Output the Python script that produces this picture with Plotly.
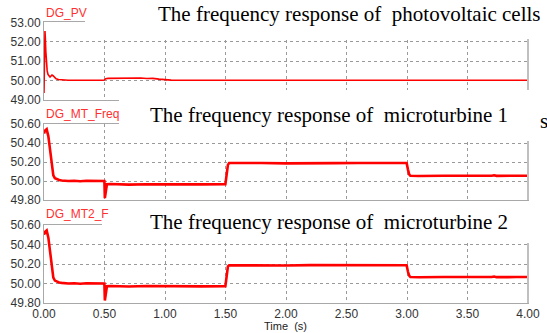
import plotly.graph_objects as go

# ---------------- data ----------------
t_pv = [0.0, 0.004, 0.008, 0.011, 0.015, 0.02, 0.026, 0.033, 0.042, 0.05, 0.058, 0.066,
        0.075, 0.085, 0.1, 0.12, 0.16, 0.2, 0.3, 0.4, 0.49, 0.5, 0.51, 0.53, 0.56, 0.6,
        0.65, 0.7, 0.75, 0.8, 0.85, 0.9, 0.95, 1.0, 1.05, 1.2, 1.5, 1.8, 2.0, 2.2, 2.5,
        2.8, 3.0, 3.2, 3.5, 3.8, 4.0]
v_pv = [49.34, 50.6, 52.55, 52.2, 51.5, 50.9, 50.5, 50.3, 50.2, 50.17, 50.22, 50.27,
        50.24, 50.15, 50.08, 50.04, 50.01, 50.0, 50.0, 49.99, 50.0, 50.02, 50.08, 50.1,
        50.1, 50.13, 50.11, 50.12, 50.1, 50.12, 50.09, 50.1, 50.06, 50.03, 50.01, 50.0,
        50.0, 50.01, 50.0, 50.0, 50.0, 50.01, 50.0, 50.0, 50.0, 50.0, 50.0]

t_mt1 = [0.0, 0.008, 0.022, 0.036, 0.05, 0.064, 0.077, 0.09, 0.105, 0.125, 0.146, 0.2,
         0.25, 0.3, 0.35, 0.4, 0.45, 0.499, 0.503, 0.508, 0.514, 0.52, 0.55, 0.7, 0.85,
         1.0, 1.15, 1.3, 1.499, 1.51, 1.52, 1.53, 1.6, 1.8, 2.0, 2.2, 2.4, 2.6, 2.8,
         2.997, 3.008, 3.018, 3.028, 3.1, 3.3, 3.5, 3.7, 3.72, 3.74, 3.9, 4.0]
v_mt1 = [50.5, 50.53, 50.545, 50.47, 50.33, 50.17, 50.06, 50.03, 50.02, 50.01, 50.006,
         50.0, 50.003, 49.998, 50.002, 50.0, 50.003, 50.0, 49.82, 49.88, 49.94, 49.965,
         49.968, 49.962, 49.966, 49.963, 49.967, 49.964, 49.966, 50.08, 50.17, 50.19,
         50.188, 50.19, 50.186, 50.19, 50.188, 50.19, 50.189, 50.19, 50.12, 50.07,
         50.055, 50.052, 50.056, 50.053, 50.055, 50.06, 50.054, 50.055, 50.056]

t_mt2 = [0.0, 0.008, 0.022, 0.036, 0.05, 0.064, 0.077, 0.09, 0.105, 0.125, 0.146, 0.2,
         0.25, 0.3, 0.35, 0.4, 0.45, 0.499, 0.503, 0.508, 0.514, 0.52, 0.55, 0.7, 0.85,
         1.0, 1.15, 1.3, 1.499, 1.51, 1.52, 1.53, 1.6, 1.8, 2.0, 2.2, 2.4, 2.6, 2.8,
         2.997, 3.008, 3.018, 3.028, 3.1, 3.3, 3.5, 3.7, 3.72, 3.74, 3.9, 4.0]
v_mt2 = [50.5, 50.53, 50.545, 50.47, 50.33, 50.17, 50.06, 50.03, 50.02, 50.01, 50.006,
         50.0, 50.003, 49.998, 50.002, 50.0, 50.003, 50.0, 49.826, 49.89, 49.945, 49.972,
         49.975, 49.97, 49.974, 49.972, 49.975, 49.971, 49.973, 50.09, 50.175, 50.187,
         50.186, 50.188, 50.185, 50.188, 50.187, 50.188, 50.186, 50.187, 50.12, 50.08,
         50.066, 50.064, 50.067, 50.065, 50.066, 50.072, 50.065, 50.066, 50.067]

series_names = ["DG_PV", "DG_MT_Freq", "DG_MT2_F"]
titles = ["The frequency response of \u00a0photovoltaic cells",
          "The frequency response of \u00a0microturbine 1",
          "The frequency response of \u00a0microturbine 2"]
x_title = "Time \u00a0(s)"
x_ticks = [0.0, 0.5, 1.0, 1.5, 2.0, 2.5, 3.0, 3.5, 4.0]
y1_ticks = [49.0, 50.0, 51.0, 52.0, 53.0]
y23_ticks = [49.8, 50.0, 50.2, 50.4, 50.6]

# ---------------- layout helpers ----------------
W, H = 547, 333
ML, MR, MT, MB = 44, 19, 0, 30
PW, PH = W - ML - MR, H - MT - MB


def fx(px):
    return (px - ML) / PW


def fy(py):
    return (H - MB - py) / PH


RED = "#ff0000"
FRAME = "#a8a8a8"
GRID = "#9a9a9a"
TICKFONT = dict(family="Liberation Sans, Arial", size=12, color="#333333")

fig = go.Figure()
fig.add_trace(go.Scatter(x=t_pv, y=v_pv, mode="lines", line=dict(color=RED, width=1.6),
                         xaxis="x", yaxis="y", showlegend=False))
fig.add_trace(go.Scatter(x=t_mt1, y=v_mt1, mode="lines", line=dict(color=RED, width=2.6),
                         xaxis="x2", yaxis="y2", showlegend=False))
fig.add_trace(go.Scatter(x=t_mt2, y=v_mt2, mode="lines", line=dict(color=RED, width=2.6),
                         xaxis="x3", yaxis="y3", showlegend=False))

domains = [[fy(99.6), fy(22.4)], [fy(200), fy(124)], [0.0, fy(225)]]
yranges = [[49, 53], [49.8, 50.6], [49.8, 50.6]]
yticks = [y1_ticks, y23_ticks, y23_ticks]

common_x = dict(range=[0, 4], domain=[0, 1], tickvals=x_ticks, tickformat=".2f",
                showgrid=True, gridcolor=GRID, griddash="dot", gridwidth=1,
                showline=True, linecolor=FRAME, linewidth=1, mirror=True,
                zeroline=False, ticks="", tickfont=TICKFONT, automargin=False)
common_y = dict(tickformat=".2f", showgrid=True, gridcolor=GRID, griddash="dot",
                gridwidth=1, showline=True, linecolor=FRAME, linewidth=1, mirror=True,
                zeroline=False, ticks="", tickfont=TICKFONT, automargin=False)

layout = dict(width=W, height=H, margin=dict(l=ML, r=MR, t=MT, b=MB, autoexpand=False),
              paper_bgcolor="white", plot_bgcolor="white", showlegend=False)
for i in range(3):
    sx = "" if i == 0 else str(i + 1)
    xa = dict(common_x, anchor="y" + sx)
    if i < 2:
        xa["showticklabels"] = False
    ya = dict(common_y, anchor="x" + sx, domain=domains[i], range=yranges[i],
              tickvals=yticks[i])
    layout["xaxis" + sx] = xa
    layout["yaxis" + sx] = ya

# white cover boxes (screenshot overlay) and thicker right frame edges
shapes = []
for y0, y1 in [(22, 100), (124, 200), (225, 303)]:
    shapes.append(dict(type="line", xref="paper", yref="paper", x0=fx(528), x1=fx(528),
                       y0=fy(y1), y1=fy(y0), line=dict(color="#c0c0c0", width=2),
                       layer="above"))
for x0, y0, y1 in [(85, -2, 39), (119, 90, 141), (102, 201, 243)]:
    shapes.append(dict(type="rect", xref="paper", yref="paper", x0=fx(x0), x1=fx(W + 2),
                       y0=fy(y1), y1=fy(y0), fillcolor="white", line=dict(width=0),
                       layer="above"))
layout["shapes"] = shapes

ann = []
for name, py in zip(series_names, [13, 114, 214]):
    ann.append(dict(text=name, xref="paper", yref="paper", x=fx(44), y=fy(py),
                    xanchor="left", yanchor="middle", showarrow=False,
                    font=dict(family="Liberation Sans, Arial", size=12, color="#ff3030")))
for txt, cx, py in zip(titles, [349, 329, 329], [14, 115, 222]):
    ann.append(dict(text=txt, xref="paper", yref="paper", x=fx(cx), y=fy(py),
                    xanchor="center", yanchor="middle", showarrow=False,
                    font=dict(family="Liberation Serif, Times New Roman", size=21,
                              color="#000000")))
ann.append(dict(text="s", xref="paper", yref="paper", x=fx(538), y=fy(121),
                xanchor="left", yanchor="middle", showarrow=False,
                font=dict(family="Liberation Serif, Times New Roman", size=21,
                          color="#000000")))
ann.append(dict(text=x_title, xref="paper", yref="paper", x=fx(285), y=fy(326),
                xanchor="center", yanchor="middle", showarrow=False,
                font=dict(family="Liberation Sans, Arial", size=11, color="#222222")))
layout["annotations"] = ann

fig.update_layout(**layout)
fig.write_html("out.html", config={"displayModeBar": False})

# remove the browser's default 8px page margin so the figure sits at the window origin
with open("out.html", "r", encoding="utf-8") as fh:
    html = fh.read()
html = html.replace("<head>", "<head><style>html,body{margin:0;padding:0;overflow:hidden}</style>", 1)
with open("out.html", "w", encoding="utf-8") as fh:
    fh.write(html)
